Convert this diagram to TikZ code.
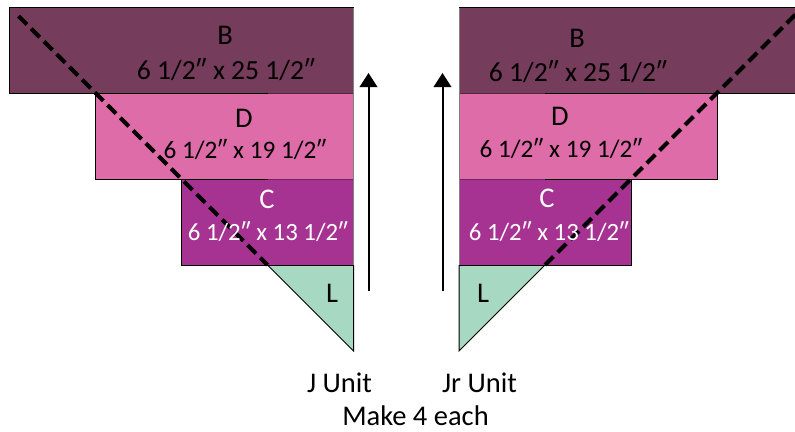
\documentclass[tikz,border=0pt]{standalone}
\usepackage{fontspec}
\setmainfont{Carlito}
\usetikzlibrary{arrows.meta}
\tikzset{
  lbl/.style={anchor=base,inner sep=0pt,font=\fontsize{28.5}{30}\selectfont,text=#1},
  lbl/.default=black,
  dimB/.style={anchor=base,inner sep=0pt,font=\fontsize{27.6}{30}\selectfont,text=black},
  dimD/.style={anchor=base,inner sep=0pt,font=\fontsize{25.2}{30}\selectfont,text=black},
  dimC/.style={anchor=base,inner sep=0pt,font=\fontsize{24.8}{30}\selectfont,text=white},
  outline/.style={draw=black,line width=1pt,line join=miter},
  seam/.style={line width=0.8pt,draw=#1},
  cutline/.style={draw=black,line width=4.2pt,dash pattern=on 12pt off 6pt},
  pressarrow/.style={draw=black,line width=2pt,-{Triangle[length=14pt,width=17.5pt]}}
}
\definecolor{cB}{HTML}{763C5C}
\definecolor{cD}{HTML}{DE6CA8}
\definecolor{cC}{HTML}{A63391}
\definecolor{cL}{HTML}{A6D8C2}
\begin{document}
\begin{tikzpicture}[x=1pt,y=-1pt]
\useasboundingbox (0,0) rectangle (795,431);
\clip (0,0) rectangle (795,431);
% Left unit
\fill[cB] (9.5,7.5) rectangle (353.5,93);
\fill[cD] (95.5,93) rectangle (353.5,179);
\fill[cC] (181.5,179) rectangle (353.5,265);
\fill[cL] (267.5,265) -- (353.5,265) -- (353.5,351) -- cycle;
\draw[seam=cB!70!black] (267.5,93) -- (353.5,93);
\draw[seam=cC!70!black] (267.5,179) -- (353.5,179);
\draw[seam=gray] (353.5,7.5) -- (353.5,265);
\draw[outline] (353.5,7.5) -- (9.5,7.5) -- (9.5,93) -- (267.5,93);
\draw[outline] (95.5,93) -- (95.5,179) -- (267.5,179);
\draw[outline] (181.5,179) -- (181.5,265) -- (353.5,265);
\draw[outline] (267.5,265) -- (353.5,351) -- (353.5,265);
\coordinate (jstart) at (18.5,16);
\coordinate (jend) at (267.5,265);
\draw[cutline] (jstart) -- (jend);
% Right unit
\fill[cB] (459,7.5) rectangle (803,93);
\fill[cD] (459,93) rectangle (717,179);
\fill[cC] (459,179) rectangle (631,265);
\fill[cL] (459,265) -- (545,265) -- (459,351) -- cycle;
\draw[seam=cB!70!black] (459,93) -- (545,93);
\draw[seam=cC!70!black] (459,179) -- (545,179);
\draw[seam=gray] (459,7.5) -- (459,265);
\draw[outline] (459,7.5) -- (803,7.5);
\draw[outline] (803,93) -- (545,93);
\draw[outline] (717,93) -- (717,179) -- (545,179);
\draw[outline] (631,179) -- (631,265) -- (459,265);
\draw[outline] (545,265) -- (459,351) -- (459,265);
\coordinate (rstart) at (545,265);
\coordinate (rend) at (803,7);
\draw[cutline] (rstart) -- (rend);
% Arrows
\coordinate (a1) at (368.5,291);
\coordinate (a2) at (368.5,73);
\coordinate (b1) at (442.5,291);
\coordinate (b2) at (442.5,73);
\draw[pressarrow] (a1) -- (a2);
\draw[pressarrow] (b1) -- (b2);
% Labels
\node[lbl] (tb) at (225,44) {B};
\node[dimB] (tbs) at (226,79) {6 1/2″ x 25 1/2″};
\node[lbl] (td) at (244,127) {D};
\node[dimD] (tds) at (245,158) {6 1/2″ x 19 1/2″};
\node[lbl=white] (tc) at (267,208) {C};
\node[dimC] (tcs) at (268,240) {6 1/2″ x 13 1/2″};
\node[lbl] (tl) at (332,302) {L};
\node[lbl] (rb) at (577,47) {B};
\node[dimB] (rbs) at (578,81) {6 1/2″ x 25 1/2″};
\node[lbl] (rd) at (560,125) {D};
\node[dimD] (rds) at (561,157) {6 1/2″ x 19 1/2″};
\node[lbl=white] (rc) at (547,207) {C};
\node[dimC] (rcs) at (549,240) {6 1/2″ x 13 1/2″};
\node[lbl] (rl) at (483,302) {L};
\node[lbl] (ju) at (339.5,392) {J Unit};
\node[lbl] (jru) at (479.5,392) {Jr Unit};
\node[lbl] (mk) at (415.5,425) {Make 4 each};
\end{tikzpicture}
\end{document}
